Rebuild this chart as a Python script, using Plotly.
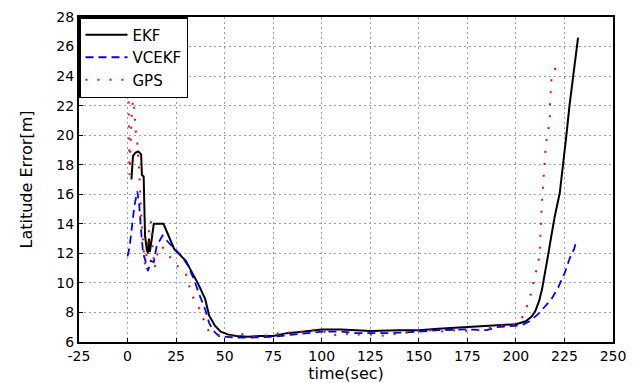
import plotly.graph_objects as go

# EKF
ekf_t = [2, 2.8, 4, 5.5, 7, 7.4, 8.3, 8.7, 9, 10, 10.6, 11, 11.5, 12.5, 13.5, 18.5, 21, 24, 27, 30, 32, 34, 36.5, 40, 42, 45, 48, 52, 56, 62, 68, 75, 82, 90, 100, 110, 118, 125, 140, 150, 160, 175, 190, 200, 205, 208, 210, 212, 213.5, 215, 216.6, 218, 220, 222.6, 224.3, 226, 227.6, 229.5, 231.2, 232]
ekf_v = [17.0, 18.6, 18.8, 18.9, 18.7, 17.3, 17.2, 15.5, 13.2, 12.2, 12.0, 13.0, 12.1, 13.0, 14.0, 14.0, 13.2, 12.3, 11.9, 11.5, 11.0, 10.5, 9.9, 8.9, 7.8, 7.1, 6.7, 6.5, 6.4, 6.35, 6.4, 6.4, 6.6, 6.7, 6.85, 6.85, 6.8, 6.75, 6.8, 6.8, 6.9, 7.0, 7.1, 7.2, 7.4, 7.7, 8.1, 8.8, 9.6, 10.6, 11.9, 13.0, 14.5, 16.1, 17.9, 20.0, 22.0, 23.9, 25.8, 26.6]

# VCEKF
vcekf_t = [0, 1, 2, 3.5, 5, 6, 7, 8, 9, 10.5, 12, 13.5, 15, 18, 22, 26, 28, 31, 34, 37, 40, 42, 44, 47, 50, 55, 62, 70, 75, 85, 95, 100, 110, 118, 125, 135, 150, 160, 175, 185, 190, 200, 204, 207, 211.5, 215, 218.3, 221.8, 225.2, 227.8, 230, 231.2]
vcekf_v = [11.8, 12.4, 13.5, 15.2, 16.2, 15.3, 13.5, 12.0, 11.6, 10.8, 11.5, 11.4, 12.5, 13.2, 12.6, 12.1, 11.8, 11.2, 10.3, 9.2, 8.2, 7.3, 6.8, 6.4, 6.35, 6.3, 6.3, 6.35, 6.35, 6.5, 6.6, 6.7, 6.7, 6.6, 6.6, 6.6, 6.7, 6.8, 6.85, 6.8, 7.0, 7.1, 7.2, 7.4, 7.9, 8.4, 8.9, 9.7, 10.7, 11.7, 12.3, 12.9]

# GPS
gps_t = [0.5, 1, 2, 3, 4, 5, 6, 6.5, 7, 7.5, 8, 9, 10, 11, 12, 13, 14, 15, 17, 20, 23, 27, 30, 33, 36, 38, 40, 42, 45, 50, 55, 60, 65, 75, 80, 85, 95, 100, 105, 110, 115, 125, 130, 140, 150, 155, 160, 170, 175, 180, 190, 200, 203, 206.3, 208, 209.4, 211.5, 212.3, 212.5, 213, 213.5, 214, 215, 215.4, 216.5, 217.5, 217.5, 218, 218.3, 220.5]
gps_v = [23.1, 17.3, 21.0, 22.8, 20.5, 19.5, 17.5, 16.5, 14.8, 13.5, 12.5, 11.2, 12.2, 13.5, 14.2, 12.2, 11.0, 11.8, 12.5, 12.2, 11.5, 11.0, 10.6, 9.2, 8.5, 8.0, 7.2, 6.7, 6.5, 6.4, 6.4, 6.55, 6.4, 6.45, 6.7, 6.6, 6.8, 6.8, 6.4, 6.6, 6.5, 6.5, 6.4, 6.6, 6.75, 6.8, 6.7, 6.8, 6.75, 6.8, 7.1, 7.2, 7.6, 8.6, 9.4, 10.3, 11.3, 12.3, 13.4, 14.4, 15.6, 16.6, 18.5, 19.4, 20.2, 21.1, 22.0, 22.9, 23.8, 24.6]

x_ticks = [-25, 0, 25, 50, 75, 100, 125, 150, 175, 200, 225, 250]
y_ticks = [6, 8, 10, 12, 14, 16, 18, 20, 22, 24, 26, 28]

fig = go.Figure()
fig.add_trace(go.Scatter(x=ekf_t, y=ekf_v, mode="lines", name="EKF",
                         line=dict(color="black", width=2)))
fig.add_trace(go.Scatter(x=vcekf_t, y=vcekf_v, mode="lines", name="VCEKF",
                         line=dict(color="blue", width=1.8, dash="8px,5px")))
fig.add_trace(go.Scatter(x=gps_t, y=gps_v, mode="lines", name="GPS",
                         line=dict(color="red", width=2, dash="2px,10px")))

font_family = "DejaVu Sans"
axis_common = dict(showline=True, linecolor="black", linewidth=2, mirror=True,
                   showgrid=True, gridcolor="#a0a0a0", gridwidth=1, griddash="2px,3px",
                   ticks="inside", ticklen=4, tickcolor="black", zeroline=False,
                   automargin=False, ticklabeloverflow="allow",
                   tickfont=dict(family=font_family, size=14, color="black"))

fig.update_xaxes(range=[-25, 250], tickvals=x_ticks, ticktext=[str(v) for v in x_ticks],
                 title=dict(text="time(sec)", font=dict(family=font_family, size=16, color="black"), standoff=4),
                 **axis_common)
fig.update_yaxes(range=[6, 28], tickvals=y_ticks, ticktext=[str(v) for v in y_ticks],
                 title=dict(text="Latitude Error[m]", font=dict(family=font_family, size=16, color="black"), standoff=20),
                 **axis_common)

# page body has an 8px margin: the figure is sized and offset to fit the 638x383 window
fig.update_layout(
    width=630, height=375,
    margin=dict(l=71, r=25, t=9, b=41),
    paper_bgcolor="white", plot_bgcolor="white",
    font=dict(family=font_family, color="black"),
    showlegend=True,
    legend=dict(x=0, y=1, xanchor="left", yanchor="top",
                bordercolor="black", borderwidth=1.5, bgcolor="white",
                font=dict(family=font_family, size=15, color="black"),
                itemwidth=42,
                tracegroupgap=0),
)

fig.write_html("out.html")
